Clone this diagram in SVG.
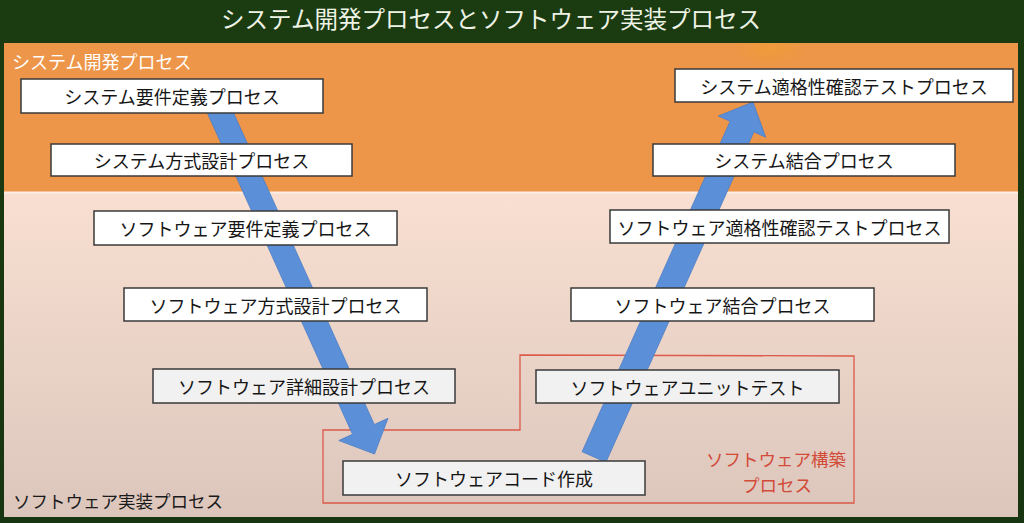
<svg xmlns="http://www.w3.org/2000/svg" width="1024" height="523" viewBox="0 0 1024 523">
<defs>
<linearGradient id="bg" x1="0" y1="0" x2="0" y2="1">
<stop offset="0" stop-color="#1b3b11"/>
<stop offset="1" stop-color="#173510"/>
</linearGradient>
<linearGradient id="pink" x1="0" y1="0" x2="0" y2="1">
<stop offset="0" stop-color="#f8dfd1"/>
<stop offset="1" stop-color="#dcc6bc"/>
</linearGradient>
<radialGradient id="glow" cx="0.5" cy="0.5" r="0.5">
<stop offset="0" stop-color="#f3a030" stop-opacity="0.55"/>
<stop offset="1" stop-color="#f3a030" stop-opacity="0"/>
</radialGradient>
<clipPath id="orangeClip"><rect x="4" y="43" width="1014" height="149"/></clipPath>
<style>
text{font-family:"Noto Sans CJK JP","Noto Sans",sans-serif;}
.box{stroke:#3a3a3a;stroke-width:1.5;}
.w{fill:#ffffff;}
.g{fill:#f1f1f1;}
.lbl{font-size:18px;fill:#161616;text-anchor:middle;dominant-baseline:central;}
.arrow{fill:#5b8fd7;stroke:#4c7fc6;stroke-width:0.8;}
</style>
</defs>
<rect x="0" y="0" width="1024" height="523" fill="url(#bg)"/>
<text x="491" y="18" font-size="23.5" fill="#eef3e6" text-anchor="middle" dominant-baseline="central">システム開発プロセスとソフトウェア実装プロセス</text>

<g id="panel-system">
<rect x="4" y="43" width="1014" height="149" fill="#ed9549"/>
<ellipse cx="770" cy="48" rx="40" ry="20" fill="url(#glow)" clip-path="url(#orangeClip)"/>
<text x="12" y="61" font-size="18" fill="#ffffff" dominant-baseline="central">システム開発プロセス</text>
</g>
<g id="panel-software">
<rect x="4" y="193" width="1014" height="324" fill="url(#pink)"/>
<line x1="4" y1="192.5" x2="1018" y2="192.5" stroke="#fbeee6" stroke-width="2"/>
<text x="13" y="500" font-size="17.5" fill="#1a1a1a" dominant-baseline="central">ソフトウェア実装プロセス</text>
</g>

<g id="construction-group">
<path d="M520,355 L854,356 L854,503 L323,503 L323,430 L520,430 Z" fill="none" stroke="#dc5a4a" stroke-width="1.3"/>
<text x="776" y="458" font-size="17.5" fill="#d24a38" text-anchor="middle" dominant-baseline="central">ソフトウェア構築</text>
<text x="777" y="484" font-size="17.5" fill="#d24a38" text-anchor="middle" dominant-baseline="central">プロセス</text>
</g>

<g id="connectors">
<polygon class="arrow" points="225.5,95.1 374.3,424.5 388,418.3 374.5,454 338.8,440.5 352.5,434.3 203.7,104.9"/>
<polygon class="arrow" points="582.1,451.7 730.1,121.3 718.3,116 753,102 765.7,137.2 753.9,131.9 605.9,462.3"/>
</g>

<g id="n-sys-req"><rect class="box w" x="21" y="79" width="302" height="34"/><text class="lbl" x="172" y="96">システム要件定義プロセス</text></g>
<g id="n-sys-arch"><rect class="box w" x="51" y="144" width="301" height="32"/><text class="lbl" x="201.5" y="160">システム方式設計プロセス</text></g>
<g id="n-sw-req"><rect class="box w" x="94" y="211" width="303" height="34"/><text class="lbl" x="245.5" y="228">ソフトウェア要件定義プロセス</text></g>
<g id="n-sw-arch"><rect class="box w" x="124" y="288" width="303" height="33"/><text class="lbl" x="275.5" y="304.5">ソフトウェア方式設計プロセス</text></g>
<g id="n-sw-detail"><rect class="box g" x="153" y="369" width="302" height="34"/><text class="lbl" x="304" y="386">ソフトウェア詳細設計プロセス</text></g>
<g id="n-sw-code"><rect class="box g" x="343" y="461" width="302" height="34"/><text class="lbl" x="494" y="478">ソフトウェアコード作成</text></g>
<g id="n-sw-unit"><rect class="box g" x="536" y="370" width="303" height="33"/><text class="lbl" x="687.5" y="386.5">ソフトウェアユニットテスト</text></g>
<g id="n-sw-int"><rect class="box w" x="571" y="288" width="303" height="33"/><text class="lbl" x="722.5" y="304.5">ソフトウェア結合プロセス</text></g>
<g id="n-sw-qual"><rect class="box w" x="610" y="210" width="339" height="33"/><text class="lbl" x="779.5" y="226.5">ソフトウェア適格性確認テストプロセス</text></g>
<g id="n-sys-int"><rect class="box w" x="653" y="144" width="302" height="32"/><text class="lbl" x="804" y="160">システム結合プロセス</text></g>
<g id="n-sys-qual"><rect class="box w" x="675" y="69" width="338" height="33"/><text class="lbl" x="844" y="85.5">システム適格性確認テストプロセス</text></g>
</svg>
